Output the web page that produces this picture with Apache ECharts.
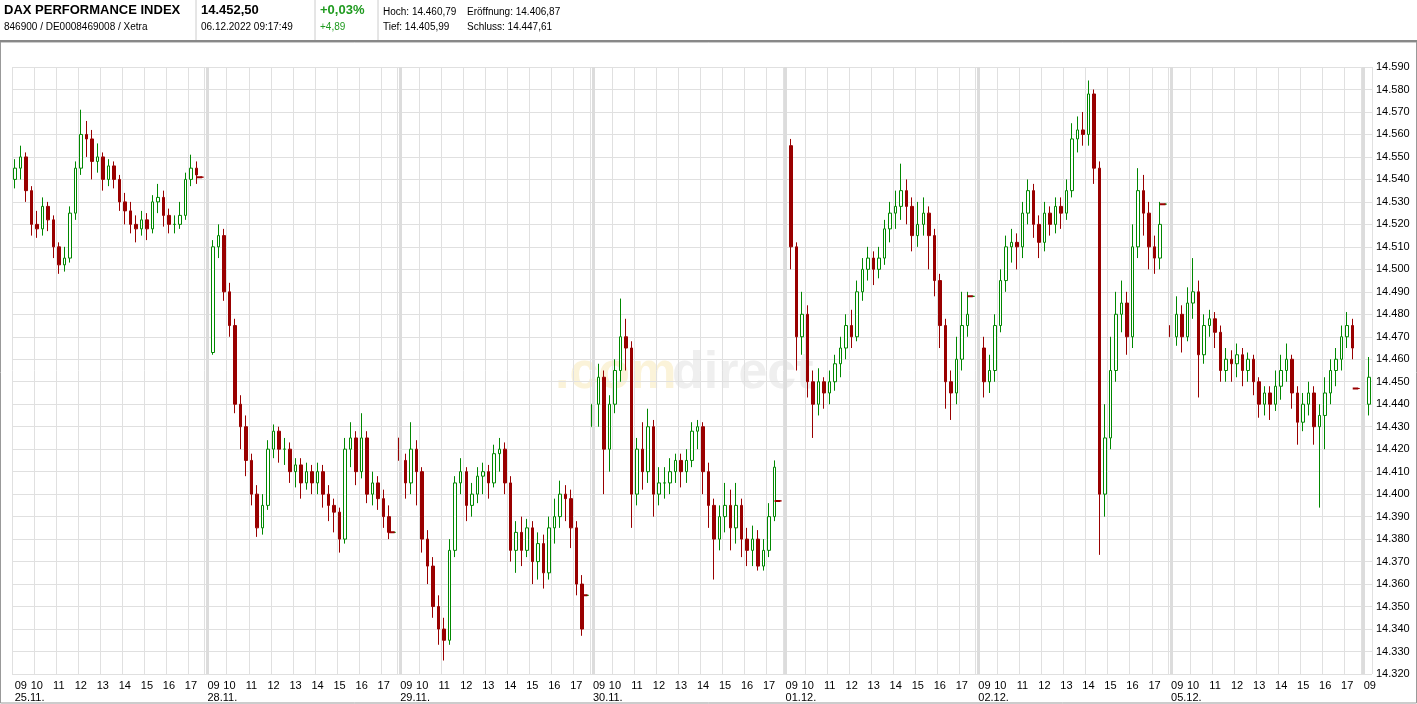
<!DOCTYPE html>
<html><head><meta charset="utf-8">
<script src="https://cdn.jsdelivr.net/npm/echarts@6/dist/echarts.min.js"></script>
<style>html,body{margin:0;padding:0;background:#fff}#c{width:1417px;height:704px}</style>
</head><body><div id="c"></div>
<script>
const days = ['25.11.','28.11.','29.11.','30.11.','01.12.','02.12.','05.12.','06.12.'];
const yTicks = {min:14320, max:14590, step:10};
// [open, close, low, high] per 15-minute slot, 09:00 - 17:30 (+after-hours slot)
const d1 = [[14540,14545,14536,14549],[14545,14550,14540,14555],[14550,14535,14530,14552],[14535,14520,14515,14537],[14520,14518,14514,14526],[14518,14528,14515,14532],[14528,14522,14517,14530],[14522,14510,14505,14524],[14510,14502,14498,14512],[14502,14505,14499,14510],[14505,14525,14503,14528],[14525,14545,14522,14548],[14545,14560,14542,14571],[14560,14558,14550,14566],[14558,14548,14540,14562],[14548,14550,14543,14556],[14550,14540,14535,14552],[14540,14546,14537,14549],[14546,14540,14536,14548],[14540,14530,14526,14542],[14530,14526,14520,14534],[14526,14520,14516,14530],[14520,14518,14512,14524],[14518,14522,14515,14526],[14522,14518,14513,14525],[14518,14530,14516,14533],[14530,14532,14525,14538],[14532,14524,14519,14535],[14524,14520,14516,14527],[14520,14520,14516,14524],[14520,14524,14518,14530],[14524,14540,14522,14543],[14540,14545,14537,14551],[14545,14542,14538,14548],[14541,14541,14541,14541]];
const d2 = [[14475,14463,14460,14478],[14463,14510,14462,14513],[14510,14515,14505,14520],[14515,14490,14486,14518],[14490,14475,14470,14494],[14475,14440,14436,14478],[14440,14430,14420,14444],[14430,14415,14408,14435],[14415,14400,14395,14418],[14400,14385,14381,14404],[14385,14395,14382,14400],[14395,14420,14393,14424],[14420,14428,14416,14431],[14428,14420,14414,14430],[14420,14420,14413,14425],[14420,14410,14405,14423],[14410,14413,14403,14416],[14413,14405,14398,14416],[14405,14410,14402,14414],[14410,14405,14400,14413],[14405,14410,14400,14414],[14410,14400,14394,14413],[14400,14395,14388,14404],[14395,14392,14383,14398],[14392,14380,14374,14394],[14380,14420,14378,14425],[14420,14425,14412,14432],[14425,14410,14404,14428],[14410,14425,14407,14436],[14425,14400,14396,14428],[14400,14405,14395,14410],[14405,14398,14393,14408],[14398,14390,14385,14402],[14390,14383,14380,14395],[14383,14383,14383,14383]];
const d3 = [[14425,14415,14402,14430],[14415,14405,14398,14418],[14405,14420,14400,14432],[14420,14410,14395,14424],[14410,14380,14374,14412],[14380,14368,14360,14384],[14368,14350,14345,14372],[14350,14340,14333,14355],[14340,14335,14326,14345],[14335,14375,14333,14380],[14375,14405,14372,14408],[14405,14410,14400,14416],[14410,14395,14388,14412],[14395,14400,14390,14405],[14400,14408,14396,14412],[14408,14410,14400,14414],[14410,14405,14398,14413],[14405,14418,14403,14422],[14418,14420,14410,14425],[14420,14405,14400,14423],[14405,14375,14370,14408],[14375,14383,14365,14388],[14383,14375,14368,14390],[14375,14385,14372,14389],[14385,14370,14360,14388],[14370,14378,14362,14383],[14378,14365,14358,14382],[14365,14385,14362,14390],[14385,14390,14378,14398],[14390,14400,14385,14406],[14400,14398,14388,14404],[14398,14385,14376,14402],[14385,14360,14355,14388],[14360,14340,14337,14364],[14355,14355,14355,14355]];
const d4 = [[14430,14440,14420,14455],[14440,14452,14430,14458],[14452,14420,14400,14455],[14420,14440,14410,14444],[14440,14455,14436,14460],[14455,14470,14450,14487],[14470,14465,14455,14478],[14465,14400,14385,14468],[14400,14420,14395,14425],[14420,14410,14402,14432],[14410,14430,14405,14438],[14430,14400,14390,14433],[14400,14405,14395,14412],[14405,14405,14398,14412],[14405,14410,14400,14416],[14410,14415,14405,14418],[14415,14410,14403,14418],[14410,14415,14405,14420],[14415,14428,14412,14432],[14428,14430,14420,14433],[14430,14410,14400,14432],[14410,14395,14385,14414],[14395,14380,14362,14398],[14380,14390,14375,14395],[14390,14395,14383,14405],[14395,14385,14375,14402],[14385,14395,14378,14405],[14395,14380,14372,14398],[14380,14375,14368,14385],[14375,14380,14368,14386],[14380,14368,14366,14384],[14368,14375,14366,14380],[14375,14390,14372,14396],[14390,14412,14388,14415],[14397,14397,14397,14397]];
const d5 = [[14548,14555,14540,14563],[14555,14510,14500,14558],[14510,14470,14455,14512],[14470,14480,14462,14490],[14480,14450,14443,14484],[14450,14440,14425,14455],[14440,14450,14435,14456],[14450,14445,14438,14452],[14445,14450,14440,14455],[14450,14458,14446,14462],[14458,14465,14452,14470],[14465,14475,14460,14480],[14475,14470,14465,14482],[14470,14490,14468,14495],[14490,14500,14486,14505],[14500,14505,14495,14510],[14505,14500,14493,14508],[14500,14505,14496,14510],[14505,14518,14502,14522],[14518,14525,14512,14530],[14525,14528,14518,14535],[14528,14535,14522,14547],[14535,14528,14520,14540],[14528,14515,14508,14532],[14515,14520,14510,14530],[14520,14525,14515,14532],[14525,14515,14500,14528],[14515,14495,14488,14518],[14495,14475,14465,14498],[14475,14450,14438,14478],[14450,14445,14433,14455],[14445,14460,14440,14470],[14460,14475,14455,14490],[14475,14480,14470,14490],[14488,14488,14488,14488]];
const d6 = [[14485,14465,14455,14490],[14465,14450,14443,14470],[14450,14455,14445,14462],[14455,14475,14450,14480],[14475,14495,14472,14500],[14495,14510,14490,14515],[14510,14512,14503,14518],[14512,14510,14500,14516],[14510,14525,14505,14530],[14525,14535,14520,14540],[14535,14520,14514,14538],[14520,14512,14505,14524],[14512,14525,14508,14530],[14525,14520,14515,14528],[14520,14528,14516,14532],[14528,14525,14518,14532],[14525,14535,14522,14540],[14535,14558,14532,14565],[14558,14562,14552,14568],[14562,14560,14555,14570],[14560,14578,14555,14584],[14578,14545,14538,14580],[14545,14400,14373,14548],[14400,14425,14390,14440],[14425,14455,14420,14470],[14455,14480,14450,14490],[14480,14485,14472,14495],[14485,14470,14462,14490],[14470,14510,14465,14520],[14510,14535,14505,14545],[14535,14525,14515,14542],[14525,14510,14500,14530],[14510,14505,14498,14515],[14505,14520,14500,14530],[14529,14529,14529,14529]];
const d7 = [[14475,14470,14465,14485],[14470,14480,14466,14488],[14480,14470,14463,14484],[14470,14485,14468,14492],[14485,14490,14478,14505],[14490,14462,14443,14495],[14462,14475,14458,14480],[14475,14478,14470,14482],[14478,14472,14465,14481],[14472,14455,14450,14475],[14455,14460,14450,14465],[14460,14458,14450,14464],[14458,14462,14452,14467],[14462,14455,14448,14465],[14455,14460,14450,14463],[14460,14450,14444,14462],[14450,14440,14434,14452],[14440,14445,14435,14448],[14445,14440,14433,14448],[14440,14448,14437,14455],[14448,14455,14442,14462],[14455,14460,14450,14467],[14460,14445,14438,14462],[14445,14432,14422,14448],[14432,14440,14428,14445],[14440,14445,14435,14450],[14445,14430,14422,14448],[14430,14435,14394,14440],[14435,14445,14420,14452],[14445,14455,14440,14460],[14455,14460,14448,14465],[14460,14470,14455,14475],[14470,14475,14465,14481],[14475,14465,14460,14478],[14447,14447,14447,14447]];
const d8 = [[14410,14440,14406,14445],[14440,14452,14435,14461]];
const dayData = [d1,d2,d3,d4,d5,d6,d7,d8];

const cats = [], data = [], dayStarts = [], flat = [];
dayData.forEach((arr, d) => {
  arr.forEach((v, j) => {
    if (j === 0) dayStarts.push(cats.length);
    const m = 9*60 + 15*j;
    cats.push(days[d] + ' ' + String(Math.floor(m/60)).padStart(2,'0') + ':' + String(m%60).padStart(2,'0'));
    data.push(v);
    flat.push(null);
  });
  if (arr.length === 35) { const i = cats.length - 1; flat[i] = arr[34][1]; flat[i-1] = arr[34][1]; }
});
const slotJ = i => { let s = 0; for (let k = dayStarts.length-1; k >= 0; k--) if (i >= dayStarts[k]) { s = dayStarts[k]; break; } return i - s; };
const isHour = i => { const j = slotJ(i); return j % 4 === 0 && j <= 32; };
const fmt = v => (v/1000).toFixed(3);

const chart = echarts.init(document.getElementById('c'));
const F = 'Liberation Sans, Arial, sans-serif';
const T = (x, y, text, size, weight, color) => ({type:'text', left:x, top:y, style:{text, font:weight+' '+size+'px '+F, fill:color||'#000'}});
chart.setOption({
  animation:false,
  grid:{left:12, right:45, top:67, bottom:27},
  graphic:[
    {type:'rect', shape:{x:0.5,y:42,width:1416,height:661}, style:{fill:'none', stroke:'#999', lineWidth:1}},
    {type:'line', shape:{x1:0,y1:41,x2:1417,y2:41}, style:{stroke:'#888', lineWidth:2}},
    {type:'line', shape:{x1:196,y1:0,x2:196,y2:40}, style:{stroke:'#ccc', lineWidth:1}},
    {type:'line', shape:{x1:315,y1:0,x2:315,y2:40}, style:{stroke:'#ccc', lineWidth:1}},
    {type:'line', shape:{x1:378,y1:0,x2:378,y2:40}, style:{stroke:'#ccc', lineWidth:1}},
    T(4,4,'DAX PERFORMANCE INDEX',13,'bold'),
    T(4,22,'846900 / DE0008469008 / Xetra',10,'normal'),
    T(201,4,'14.452,50',13,'bold'),
    T(201,22,'06.12.2022 09:17:49',10,'normal'),
    T(320,4,'+0,03%',13,'bold','#1f9a1f'),
    T(320,22,'+4,89',10,'normal','#1f9a1f'),
    T(383,7,'Hoch: 14.460,79',10,'normal'),
    T(467,7,'Eröffnung: 14.406,87',10,'normal'),
    T(383,22,'Tief: 14.405,99',10,'normal'),
    T(467,22,'Schluss: 14.447,61',10,'normal'),
    {type:'text', left:555, top:348, z:-1, style:{text:'.com', font:'bold 52px '+F, fill:'#fbf3d9'}},
    {type:'text', left:672, top:348, z:-1, style:{text:'direct', font:'bold 52px '+F, fill:'#efefef'}}
  ],
  xAxis:[{
    type:'category', data:cats, boundaryGap:true,
    axisLine:{show:false}, axisTick:{show:false},
    splitLine:{show:true, interval:(i)=>isHour(i), lineStyle:{color:'#e0e0e0', width:1}},
    axisLabel:{interval:(i)=>isHour(i) && slotJ(i)!==0, formatter:(v)=>v.slice(7,9), fontFamily:F, fontSize:11, color:'#000', margin:6, hideOverlap:false}
  },{
    type:'category', data:cats, boundaryGap:true, position:'bottom',
    axisLine:{show:false}, axisTick:{show:false}, splitLine:{show:false},
    axisLabel:{interval:(i)=>slotJ(i)===0, align:'left', formatter:(v,i)=> i===dayStarts[7] ? '09' : '09\n'+v.slice(0,6), fontFamily:F, fontSize:11, color:'#000', margin:6, lineHeight:12, hideOverlap:false}
  }],
  yAxis:{
    type:'value', position:'right', min:yTicks.min, max:yTicks.max, interval:yTicks.step, scale:true,
    axisLine:{show:false}, axisTick:{show:false},
    splitLine:{lineStyle:{color:'#e0e0e0'}},
    axisLabel:{formatter:fmt, fontFamily:F, fontSize:11, color:'#000', margin:4}
  },
  series:[{
    type:'candlestick', data:data, barWidth:3,
    itemStyle:{color:'#ffffff', color0:'#990000', borderColor:'#008800', borderColor0:'#990000', borderWidth:1},
    markLine:{silent:true, symbol:'none', label:{show:false}, lineStyle:{color:'#dcdcdc', width:3, type:'solid'},
      data: dayStarts.slice(1).map(i=>({xAxis:i-0.5}))}
  },{
    type:'line', data:flat, showSymbol:false, connectNulls:false, silent:true,
    lineStyle:{color:'#990000', width:2}
  }]
});
</script></body></html>
